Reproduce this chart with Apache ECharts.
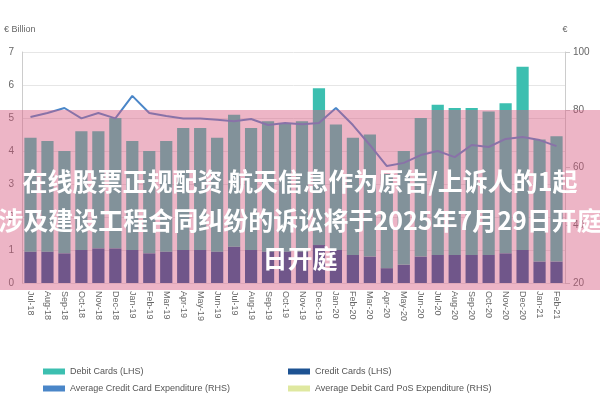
<!DOCTYPE html><html><head><meta charset="utf-8">
<script src="https://cdn.jsdelivr.net/npm/echarts@6/dist/echarts.min.js"></script>
<style>html,body{margin:0;padding:0;background:#fff}#c{width:600px;height:400px}</style></head><body><div id="c"></div>
<script>
const categories=['Jul-18','Aug-18','Sep-18','Oct-18','Nov-18','Dec-18','Jan-19','Feb-19','Mar-19','Apr-19','May-19','Jun-19','Jul-19','Aug-19','Sep-19','Oct-19','Nov-19','Dec-19','Jan-20','Feb-20','Mar-20','Apr-20','May-20','Jun-20','Jul-20','Aug-20','Sep-20','Oct-20','Nov-20','Dec-20','Jan-21','Feb-21'];
const creditCards=[0.95,0.95,0.9,1.0,1.05,1.05,1.0,0.9,0.95,1.0,1.0,0.95,1.1,1.0,0.95,0.95,0.95,1.15,1.0,0.85,0.8,0.45,0.55,0.8,0.85,0.85,0.85,0.85,0.9,1.0,0.65,0.65];
const totalCards=[4.4,4.3,4.0,4.6,4.6,5.0,4.3,4.0,4.3,4.7,4.7,4.4,5.1,4.7,4.9,4.85,4.9,5.9,4.8,4.4,4.5,3.3,4.0,5.0,5.4,5.3,5.3,5.2,5.45,6.55,4.35,4.45];
const debitCards=totalCards.map((t,i)=>+(t-creditCards[i]).toFixed(2));
const avgCreditExp=[77.5,78.9,80.6,77,78.9,77,84.8,78.9,77.8,77,77,76.5,76,76.8,74.7,75.4,75,75.4,80.6,74.7,67.8,60.5,61.6,64.3,65.7,63.6,67.8,67.1,69.9,70.6,69.5,67.4];
const avgDebitPosExp=[];
const leftTicks=[0,1,2,3,4,5,6,7];
const rightTicks=[20,40,60,80,100];
const overlayLines=['在线股票正规配资 航天信息作为原告/上诉人的1起','涉及建设工程合同纠纷的诉讼将于2025年7月29日开庭','日开庭'];
const ch=echarts.init(document.getElementById('c'));
const lblStyle={color:'#666',fontSize:10,fontFamily:'Liberation Sans'};
const font='bold 25px "Noto Sans CJK SC"';
ch.setOption({
 animation:false,
 grid:{left:22,right:35,top:52,bottom:117},
 legend:[
  {left:38,top:362,orient:'vertical',itemGap:8,itemWidth:22,itemHeight:6,icon:'rect',textStyle:{fontSize:9,color:'#555'},data:['Debit Cards (LHS)','Average Credit Card Expenditure (RHS)']},
  {left:283,top:362,orient:'vertical',itemGap:8,itemWidth:22,itemHeight:6,icon:'rect',textStyle:{fontSize:9,color:'#555'},data:['Credit Cards (LHS)','Average Debit Card PoS Expenditure (RHS)']}
 ],
 xAxis:{type:'category',data:categories,axisTick:{show:false},axisLine:{show:false},axisLabel:{rotate:-90,interval:0,fontSize:9,color:'#666'}},
 yAxis:[
  {type:'value',min:leftTicks[0],max:leftTicks[leftTicks.length-1],interval:1,axisLabel:lblStyle,axisLine:{show:true,lineStyle:{color:'#ccc'}},splitLine:{lineStyle:{color:'#e6e6e6'}},name:'€ Billion',nameLocation:'end',nameGap:18,nameTextStyle:{fontSize:9,color:'#666',align:'left',padding:[0,0,0,-18]}},
  {type:'value',min:rightTicks[0],max:rightTicks[rightTicks.length-1],interval:20,axisLabel:lblStyle,axisLine:{show:true,lineStyle:{color:'#ccc'}},axisTick:{show:true},splitLine:{show:false},name:'€',nameGap:18,nameTextStyle:{fontSize:9,color:'#666'}}
 ],
 series:[
  {name:'Credit Cards (LHS)',type:'bar',stack:'a',data:creditCards,barWidth:'72%',itemStyle:{color:'#1d5292'}},
  {name:'Debit Cards (LHS)',type:'bar',stack:'a',data:debitCards,itemStyle:{color:'#3cbfb0'}},
  {name:'Average Credit Card Expenditure (RHS)',type:'line',yAxisIndex:1,data:avgCreditExp,symbol:'none',lineStyle:{color:'#4a86c8',width:2},itemStyle:{color:'#4a86c8'}},
  {name:'Average Debit Card PoS Expenditure (RHS)',type:'line',yAxisIndex:1,data:avgDebitPosExp,symbol:'none',lineStyle:{color:'#dfe8a0',width:2},itemStyle:{color:'#dfe8a0'}}
 ],
 graphic:[
  {type:'rect',shape:{x:0,y:110,width:600,height:180},style:{fill:'rgba(214,90,128,0.45)'},z:100},
  {type:'text',x:300,y:181,style:{text:overlayLines[0],fill:'#fff',font:font,textAlign:'center',textVerticalAlign:'middle'},z:101},
  {type:'text',x:300,y:220,style:{text:overlayLines[1],fill:'#fff',font:font,textAlign:'center',textVerticalAlign:'middle'},z:101},
  {type:'text',x:300,y:258,style:{text:overlayLines[2],fill:'#fff',font:font,textAlign:'center',textVerticalAlign:'middle'},z:101}
 ]
});
</script></body></html>
